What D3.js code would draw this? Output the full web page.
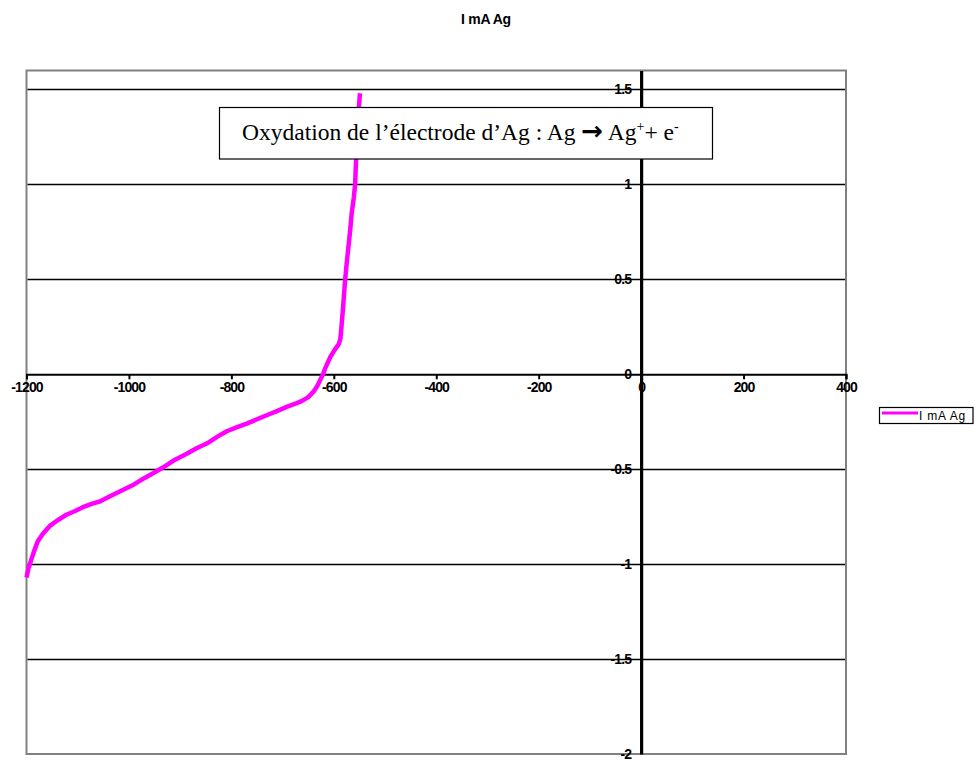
<!DOCTYPE html>
<html>
<head>
<meta charset="utf-8">
<script src="https://cdn.jsdelivr.net/npm/d3@7"></script>
<style>
  html, body { margin: 0; padding: 0; background: #fff; }
  svg { display: block; }
</style>
</head>
<body>
<svg id="chart" width="977" height="762"></svg>
<script>
// ---- Data ----
const chartTitle = "I mA Ag";
const seriesName = "I mA Ag";
const annotation = "Oxydation de l\u2019électrode d\u2019Ag : Ag";
const potential = [-1200, -1196, -1191, -1185, -1178, -1168, -1155, -1140, -1122, -1105, -1090, -1070, -1057, -1035, -1012, -990, -972, -952, -933, -910, -888, -868, -848, -828, -809, -790, -770, -750, -731, -710, -692, -675, -662, -650, -640, -632, -627, -621, -617, -612, -607, -598, -590, -587, -585, -582, -578, -575, -571.5, -568, -565, -561, -558.4, -557, -555, -553.5, -552, -549];
const current = [-1.07, -1.02, -0.98, -0.93, -0.88, -0.84, -0.80, -0.77, -0.74, -0.72, -0.70, -0.68, -0.67, -0.64, -0.61, -0.58, -0.55, -0.52, -0.49, -0.45, -0.42, -0.39, -0.365, -0.33, -0.30, -0.28, -0.26, -0.237, -0.216, -0.193, -0.172, -0.155, -0.14, -0.12, -0.093, -0.06, -0.032, 0.0, 0.03, 0.06, 0.09, 0.13, 0.16, 0.19, 0.25, 0.35, 0.495, 0.58, 0.67, 0.76, 0.85, 0.93, 1.0, 1.1, 1.2, 1.3, 1.37, 1.48];
const xTicks = [-1200, -1000, -800, -600, -400, -200, 0, 200, 400];
const yTicks = [1.5, 1, 0.5, 0, -0.5, -1, -1.5, -2];
const xDomain = [-1200, 400];
const yDomain = [-2, 1.6];

// ---- Layout ----
const svg = d3.select("#chart");
const plot = { left: 26.5, right: 846, top: 70.5, bottom: 754 };
const x = d3.scaleLinear().domain(xDomain).range([plot.left, plot.right]);
const y = d3.scaleLinear().domain(yDomain).range([plot.bottom, plot.top]);
const fmt = d => String(d);
const tickFont = sel => sel
  .attr("font-family", "Liberation Sans, Arial, sans-serif")
  .attr("font-weight", "bold").attr("font-size", 14)
  .attr("letter-spacing", "-0.9px")
  .attr("fill", "#000");

// title
svg.append("text")
  .attr("x", 486).attr("y", 24)
  .attr("text-anchor", "middle")
  .attr("font-family", "Liberation Sans, Arial, sans-serif")
  .attr("font-weight", "bold").attr("font-size", 14)
  .attr("letter-spacing", "-0.3px")
  .text(chartTitle);

// plot area border
svg.append("rect")
  .attr("x", plot.left).attr("y", plot.top)
  .attr("width", plot.right - plot.left).attr("height", plot.bottom - plot.top)
  .attr("fill", "#fff").attr("stroke", "#808080").attr("stroke-width", 2);

// horizontal gridlines
svg.append("g").selectAll("line")
  .data(yTicks.filter(d => d !== 0 && d > yDomain[0]))
  .join("line")
  .attr("x1", plot.left + 1).attr("x2", plot.right - 1)
  .attr("y1", d => Math.round(y(d)) + 0.5).attr("y2", d => Math.round(y(d)) + 0.5)
  .attr("stroke", "#000").attr("stroke-width", 1.6);

// x axis at y=0
const xAxis = d3.axisBottom(x).tickValues(xTicks).tickSize(5).tickPadding(3).tickFormat(fmt);
const gx = svg.append("g").attr("transform", `translate(0,${y(0)})`).call(xAxis);
gx.select(".domain").attr("stroke", "#000").attr("stroke-width", 2);
gx.selectAll(".tick line").attr("stroke", "#000").attr("stroke-width", 2);
gx.selectAll(".tick text").call(tickFont);

// curve
const line = d3.line().x(d => x(d[0])).y(d => y(d[1]));
const pts = potential.map((p, i) => [p, current[i]]);
svg.append("path")
  .datum(pts)
  .attr("d", line)
  .attr("fill", "none").attr("stroke", "#ff00ff").attr("stroke-width", 4.5)
  .attr("stroke-linejoin", "round").attr("stroke-linecap", "butt");

// y axis at x=0
const yAxis = d3.axisLeft(y).tickValues(yTicks).tickSize(0).tickPadding(10).tickFormat(fmt);
const gy = svg.append("g").attr("transform", `translate(${x(0)},0)`).call(yAxis);
gy.select(".domain").attr("stroke", "#000").attr("stroke-width", 3.2);
gy.selectAll(".tick text").call(tickFont);

// annotation box
const box = svg.append("g");
box.append("rect")
  .attr("x", 219.5).attr("y", 107.5).attr("width", 493).attr("height", 51.5)
  .attr("fill", "#fff").attr("stroke", "#000").attr("stroke-width", 1.2);
const t = box.append("text")
  .attr("x", 242).attr("y", 140)
  .attr("font-family", "Liberation Serif, Times New Roman, serif")
  .attr("font-size", 23.5).attr("fill", "#000");
t.append("tspan").text(annotation + " ");
t.append("tspan").attr("font-weight", "bold").attr("font-family", "DejaVu Sans, sans-serif").attr("font-size", 26).text("\u2192");
t.append("tspan").text(" Ag");
t.append("tspan").attr("font-size", 14).attr("dy", -9).text("+");
t.append("tspan").attr("dy", 9).text("+ e");
t.append("tspan").attr("font-size", 14).attr("dy", -9).text("-");

// legend
const lg = svg.append("g");
lg.append("rect")
  .attr("x", 879.5).attr("y", 407.5).attr("width", 93.5).attr("height", 16)
  .attr("fill", "#fff").attr("stroke", "#000").attr("stroke-width", 1.2);
lg.append("line")
  .attr("x1", 882).attr("x2", 918).attr("y1", 413).attr("y2", 413)
  .attr("stroke", "#ff00ff").attr("stroke-width", 3);
lg.append("text")
  .attr("x", 919).attr("y", 420)
  .attr("font-family", "Liberation Sans, Arial, sans-serif")
  .attr("font-size", 12).attr("letter-spacing", "0.8px")
  .text(seriesName);
</script>
</body>
</html>
